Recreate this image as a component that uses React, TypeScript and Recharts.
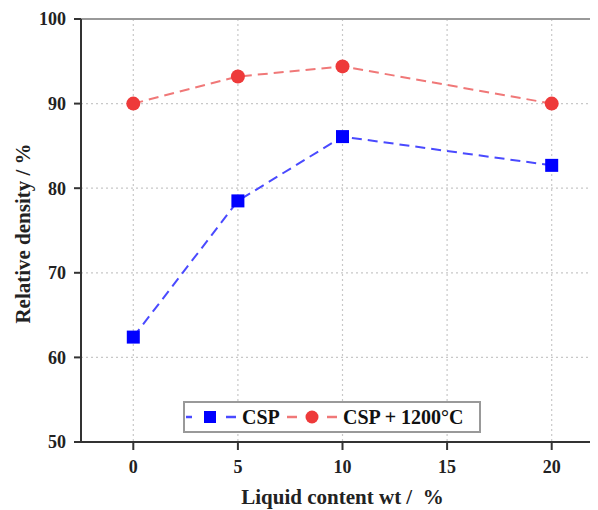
import React from "react";
import {
  LineChart,
  Line,
  XAxis,
  YAxis,
  CartesianGrid,
  Legend,
  ReferenceLine,
  Label,
} from "recharts";

const liquidContent = [0, 5, 10, 20];
const cspDensity = [62.4, 78.5, 86.1, 82.7];
const csp1200Density = [90.0, 93.2, 94.4, 90.0];
const xTicks = [0, 5, 10, 15, 20];
const yTicks = [50, 60, 70, 80, 90, 100];

const data = liquidContent.map((x, i) => ({
  x,
  csp: cspDensity[i],
  csp1200: csp1200Density[i],
}));

const FONT = "'Liberation Serif', 'Times New Roman', serif";
const BLUE = "#0000ff";
const BLUE_LINE = "#4a4aff";
const RED = "#ee3a3a";
const RED_LINE = "#f07878";

const SquareDot = (props: any) => {
  const { cx, cy } = props;
  if (cx == null || cy == null) return null;
  return <rect x={cx - 6.5} y={cy - 6.5} width={13} height={13} fill={BLUE} />;
};

const CircleDot = (props: any) => {
  const { cx, cy } = props;
  if (cx == null || cy == null) return null;
  return <circle cx={cx} cy={cy} r={7} fill={RED} />;
};

// rotated y title, placed from the axis box recharts hands us
const YTitle = (props: any) => {
  const vb = props.viewBox || {};
  const cx = (vb.x ?? 0) + 15;
  const cy = (vb.y ?? 0) + (vb.height ?? 0) / 2 + 3;
  return (
    <text
      x={cx}
      y={cy}
      transform={`rotate(-90, ${cx}, ${cy})`}
      textAnchor="middle"
      dominantBaseline="central"
      fontFamily={FONT}
      fontWeight="bold"
      fontSize={21}
      fill="#222"
    >
      Relative density / %
    </text>
  );
};

const LegendBox = () => (
  <svg width={298} height={32} style={{ display: "block" }}>
    <rect x={1} y={1} width={296} height={30} fill="#fff" stroke="#999" strokeWidth={2} />
    <line x1={3} y1={16} x2={9} y2={16} stroke={BLUE_LINE} strokeWidth={2.5} />
    <rect x={21} y={10} width={12} height={12} fill={BLUE} />
    <line x1={43} y1={16} x2={53} y2={16} stroke={BLUE_LINE} strokeWidth={2.5} />
    <text x={59} y={23} fontFamily={FONT} fontWeight="bold" fontSize={20} fill="#111">
      CSP
    </text>
    <line x1={104} y1={16} x2={114} y2={16} stroke={RED_LINE} strokeWidth={2.5} />
    <circle cx={129} cy={16} r={6.5} fill={RED} />
    <line x1={144} y1={16} x2={154} y2={16} stroke={RED_LINE} strokeWidth={2.5} />
    <text x={160} y={23} fontFamily={FONT} fontWeight="bold" fontSize={20} fill="#111">
      CSP + 1200°C
    </text>
  </svg>
);

export default function App() {
  const tickStyle = {
    fontFamily: FONT,
    fontWeight: "bold" as const,
    fontSize: 18,
    fill: "#222",
  };
  return (
    <div style={{ width: 590, height: 502, overflow: "hidden" }}>
      <LineChart
        width={620}
        height={502}
        data={data}
        margin={{ top: 11, right: 24, left: 0, bottom: 0 }}
      >
        <CartesianGrid
          stroke="#c8c8c8"
          strokeDasharray="2 3"
          strokeWidth={1.2}
          horizontalValues={[60, 70, 80, 90]}
          verticalValues={xTicks}
        />
        <ReferenceLine y={100} stroke="#999" strokeWidth={2} />
        <XAxis
          dataKey="x"
          type="number"
          domain={[-2.5, 22.5]}
          ticks={xTicks}
          allowDataOverflow
          height={68}
          tickSize={8}
          tickMargin={10}
          stroke="#333"
          strokeWidth={2}
          tick={tickStyle}
        >
          <Label
            value={"Liquid content wt /\u00a0 %"}
            position="center"
            dy={21}
            style={{
              fontFamily: FONT,
              fontWeight: "bold",
              fontSize: 21,
              fill: "#222",
            }}
          />
        </XAxis>
        <YAxis
          type="number"
          domain={[50, 100]}
          ticks={yTicks}
          width={73}
          tickSize={7}
          tickMargin={8}
          stroke="#333"
          strokeWidth={2}
          tick={tickStyle}
        >
          <Label content={<YTitle />} />
        </YAxis>
        <Legend
          verticalAlign="middle"
          align="center"
          layout="horizontal"
          content={() => <LegendBox />}
          wrapperStyle={{ position: "absolute", left: 175, top: 393, width: 298, height: 32 }}
        />
        <Line
          dataKey="csp"
          name="CSP"
          stroke={BLUE_LINE}
          strokeWidth={2}
          strokeDasharray="10 6"
          dot={<SquareDot />}
          activeDot={false}
          isAnimationActive={false}
        />
        <Line
          dataKey="csp1200"
          name="CSP + 1200°C"
          stroke={RED_LINE}
          strokeWidth={2}
          strokeDasharray="10 6"
          dot={<CircleDot />}
          activeDot={false}
          isAnimationActive={false}
        />
      </LineChart>
    </div>
  );
}
